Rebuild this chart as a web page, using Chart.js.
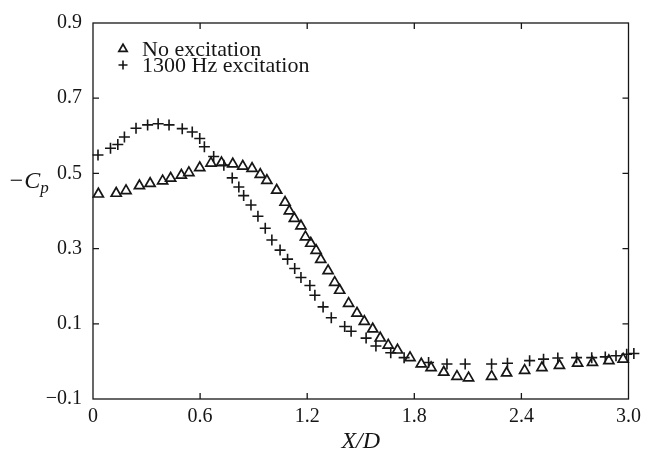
<!DOCTYPE html>
<html lang="en">
<head>
<meta charset="utf-8">
<title>-Cp vs X/D</title>
<script src="https://cdn.jsdelivr.net/npm/chart.js"></script>
<style>
	html, body { margin: 0; padding: 0; background: #fff; }
	#wrap { width: 647px; height: 458px; }
</style>
</head>
<body>
<div id="wrap"><canvas id="myChart" width="647" height="458"></canvas></div>

<script>
	// values
	const seriesNames = ['No excitation', '1300 Hz excitation'];

	const noExcX = [0.03, 0.13, 0.185, 0.26, 0.32, 0.39, 0.435, 0.495, 0.537, 0.598, 0.661, 0.72,
		0.783, 0.839, 0.891, 0.937, 0.974, 1.029, 1.076, 1.10, 1.128, 1.165, 1.19, 1.22, 1.25,
		1.276, 1.317, 1.354, 1.382, 1.432, 1.479, 1.52, 1.567, 1.609, 1.654, 1.706, 1.776, 1.839,
		1.894, 1.965, 2.039, 2.104, 2.233, 2.317, 2.418, 2.515, 2.613, 2.715, 2.798, 2.89, 2.97];
	const noExcY = [0.445, 0.447, 0.454, 0.467, 0.473, 0.480, 0.487, 0.495, 0.502, 0.515, 0.527, 0.528,
		0.525, 0.519, 0.513, 0.497, 0.481, 0.455, 0.423, 0.400, 0.380, 0.360, 0.331, 0.314, 0.295,
		0.271, 0.241, 0.210, 0.189, 0.154, 0.128, 0.106, 0.086, 0.062, 0.043, 0.030, 0.010, -0.007,
		-0.017, -0.029, -0.040, -0.044, -0.040, -0.031, -0.024, -0.017, -0.011, -0.005, -0.003, 0.002, 0.006];

	const excX = [0.028, 0.098, 0.139, 0.176, 0.241, 0.306, 0.365, 0.426, 0.50, 0.556, 0.598, 0.624,
		0.676, 0.733, 0.780, 0.817, 0.844, 0.885, 0.924, 0.965, 1.002, 1.048, 1.09, 1.13, 1.165,
		1.215, 1.243, 1.289, 1.335, 1.41, 1.446, 1.53, 1.585, 1.668, 1.743, 1.88, 1.983, 2.085,
		2.233, 2.322, 2.446, 2.524, 2.604, 2.709, 2.794, 2.87, 2.93, 2.99, 3.03, 3.05];
	const excY = [0.549, 0.567, 0.577, 0.597, 0.620, 0.629, 0.632, 0.629, 0.619, 0.610, 0.593, 0.571,
		0.545, 0.522, 0.488, 0.464, 0.441, 0.416, 0.386, 0.354, 0.323, 0.296, 0.272, 0.247, 0.223,
		0.202, 0.176, 0.145, 0.116, 0.093, 0.080, 0.062, 0.041, 0.023, 0.010, -0.003, -0.007, -0.007,
		-0.007, -0.005, 0.002, 0.006, 0.009, 0.010, 0.010, 0.012, 0.015, 0.019, 0.021, 0.020];

	const xTicks = [0, 0.6, 1.2, 1.8, 2.4, 3.0];
	const xTickLabels = ['0', '0.6', '1.2', '1.8', '2.4', '3.0'];
	const yTicks = [-0.1, 0.1, 0.3, 0.5, 0.7, 0.9];
	const yTickLabels = ['\u22120.1', '0.1', '0.3', '0.5', '0.7', '0.9'];

	const ink = '#161616';
	const serif = '"Liberation Serif", "DejaVu Serif", serif';

	function toPoints(xs, ys) {
		return xs.map((x, i) => ({ x: x, y: ys[i] }));
	}

	// frame, inward tick marks, axis titles and legend
	const framePlugin = {
		id: 'frame',
		afterDatasetsDraw(chart) {
			const ctx = chart.ctx;
			const a = chart.chartArea;
			const sx = chart.scales.x, sy = chart.scales.y;
			ctx.save();
			ctx.strokeStyle = ink;
			ctx.lineWidth = 1.3;
			ctx.strokeRect(a.left, a.top, a.right - a.left, a.bottom - a.top);

			const tl = 6;
			ctx.beginPath();
			xTicks.slice(1, -1).forEach(v => {
				const px = sx.getPixelForValue(v);
				ctx.moveTo(px, a.bottom); ctx.lineTo(px, a.bottom - tl);
				ctx.moveTo(px, a.top); ctx.lineTo(px, a.top + tl);
			});
			yTicks.slice(1, -1).forEach(v => {
				const py = sy.getPixelForValue(v);
				ctx.moveTo(a.left, py); ctx.lineTo(a.left + tl, py);
				ctx.moveTo(a.right, py); ctx.lineTo(a.right - tl, py);
			});
			ctx.stroke();

			// axis titles
			ctx.fillStyle = ink;
			ctx.textBaseline = 'alphabetic';
			ctx.font = 'italic 24px ' + serif;
			ctx.textAlign = 'left';
			const main = '\u2212C';
			ctx.fillText(main, 8, 188);
			const w = ctx.measureText(main).width;
			ctx.font = 'italic 17px ' + serif;
			ctx.fillText('p', 8 + w, 193);

			ctx.font = 'italic 24px ' + serif;
			ctx.textAlign = 'center';
			ctx.fillText('X/D', (a.left + a.right) / 2, 448);

			// legend
			const lx = 123, ly = [49, 65];
			chart.data.datasets.forEach((ds, i) => {
				ctx.fillStyle = 'rgba(0,0,0,0)';
				ctx.strokeStyle = ink;
				ctx.lineWidth = ds.borderWidth;
				Chart.helpers.drawPoint(ctx, {
					pointStyle: ds.pointStyle,
					radius: ds.pointRadius - 1,
					borderWidth: ds.borderWidth
				}, lx, ly[i]);
				ctx.fillStyle = ink;
				ctx.font = '22px ' + serif;
				ctx.textAlign = 'left';
				ctx.textBaseline = 'middle';
				ctx.fillText(ds.label, 142, ly[i] + 1);
			});
			ctx.restore();
		}
	};

	const canvas_chart = document.getElementById('myChart');

	const config = {
		type: 'scatter',
		data: {
			datasets: [
				{
					label: seriesNames[0],
					data: toPoints(noExcX, noExcY),
					pointStyle: 'triangle',
					pointRadius: 5.8,
					borderWidth: 1.7,
					borderColor: ink,
					backgroundColor: 'rgba(0,0,0,0)',
					clip: false
				},
				{
					label: seriesNames[1],
					data: toPoints(excX, excY),
					pointStyle: 'cross',
					pointRadius: 5.5,
					borderWidth: 1.6,
					borderColor: ink,
					backgroundColor: ink,
					clip: false
				}
			]
		},
		options: {
			responsive: false,
			animation: false,
			layout: { padding: { top: 15, right: 13, left: 0, bottom: 0 } },
			plugins: {
				legend: { display: false },
				tooltip: { enabled: false }
			},
			scales: {
				x: {
					type: 'linear',
					min: 0,
					max: 3.0,
					grid: { display: false, drawTicks: false },
					border: { display: false },
					afterBuildTicks: scale => { scale.ticks = xTicks.map(v => ({ value: v })); },
					afterFit: scale => { scale.height = 59; },
					ticks: {
						padding: 6,
						maxRotation: 0,
						autoSkip: false,
						color: ink,
						font: { family: serif, size: 20 },
						callback: (v, i) => xTickLabels[i]
					}
				},
				y: {
					type: 'linear',
					min: -0.1,
					max: 0.9,
					grid: { display: false, drawTicks: false },
					border: { display: false },
					afterBuildTicks: scale => { scale.ticks = yTicks.map(v => ({ value: v })); },
					afterFit: scale => { scale.width = 93; },
					ticks: {
						padding: 11,
						autoSkip: false,
						color: ink,
						font: { family: serif, size: 20 },
						callback: (v, i) => yTickLabels[i]
					}
				}
			}
		},
		plugins: [framePlugin]
	};

	const myChart = new Chart(canvas_chart, config);
</script>
</body>
</html>
